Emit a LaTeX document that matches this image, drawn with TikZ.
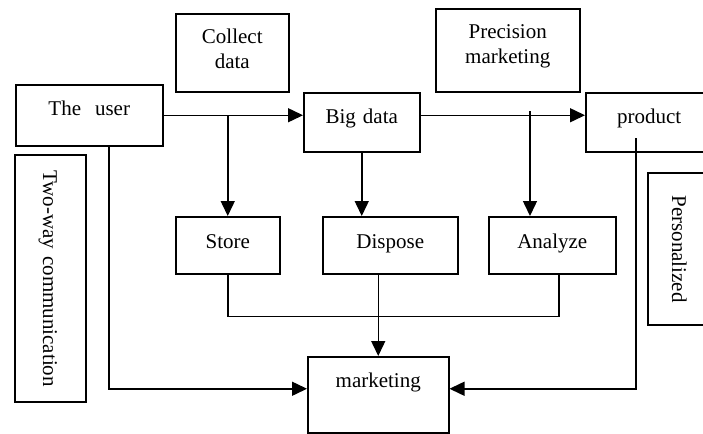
\documentclass[tikz,border=0pt]{standalone}
\usepackage{fontspec}
\setmainfont{Liberation Serif}
\usetikzlibrary{arrows.meta}
\tikzset{
  box/.style={draw,line width=0.75pt,inner sep=0pt,align=center,font=\fontsize{10.5pt}{12.5pt}\selectfont},
  arr/.style={-{Triangle[length=7.5pt,width=7pt]}}
}
\begin{document}
\begin{tikzpicture}[x=0.5pt,y=-0.5pt,line width=0.75pt]
      \useasboundingbox (0,0) rectangle (703,434);
      \node[box,anchor=north west,text width=73.5pt,text height=15.5pt,text depth=15pt](user) at (15,84){The\ \ user};
      \node[box,anchor=north west,text width=56.5pt,text height=15pt,text depth=24pt](collect) at (175,13){Collect\\data};
      \node[box,anchor=north west,text width=58pt,text height=15.5pt,text depth=14pt](bigdata) at (303,92){Big data};
      \node[box,anchor=north west,text width=72pt,text height=15pt,text depth=26.5pt](precision) at (435,8){Precision\\marketing};
      \node[box,anchor=north west,text width=63.5pt,text height=15.5pt,text depth=14pt](product) at (585,92){product};
      \node[box,anchor=north west,text width=52pt,text height=16pt,text depth=12.5pt](store) at (175,216){Store};
      \node[box,anchor=north west,text width=67.5pt,text height=16pt,text depth=12.5pt](dispose) at (322,216){Dispose};
      \node[box,anchor=north west,text width=63.5pt,text height=16pt,text depth=12.5pt](analyze) at (488,216){Analyze};
      \node[box,anchor=north west,text width=70.5pt,text height=15.5pt,text depth=22.5pt](marketing) at (307,356){marketing};
      \node[box,rotate=-90,text width=123.5pt,text height=21.5pt,text depth=14pt](twoway) at (50.5,278.5){Two-way communication};
      \node[box,rotate=-90,text width=76pt,text height=19pt,text depth=12pt](personal) at (679,249){Personalized};
      \coordinate (tap) at (530,111);
      \coordinate (pd) at (636,138);
      \draw[arr](user.east)--(user.east-|bigdata.west);
      \draw[arr](user.east-|store.north)--(store.north);
      \draw[arr](user.east-|bigdata.east)--(user.east-|product.west);
      \draw[arr](bigdata.south)--(bigdata.south|-dispose.north);
      \draw[arr](tap)--(tap|-analyze.north);
      \draw[arr]([xshift=9.75pt]user.south)|-([yshift=3pt]marketing.west);
      \draw(store.south)--++(0,42)-|([xshift=3.25pt]analyze.south);
      \draw[arr](dispose.south-|marketing.north)--(marketing.north);
      \draw[arr](pd)|-([yshift=3pt]marketing.east);
    \end{tikzpicture}
\end{document}
